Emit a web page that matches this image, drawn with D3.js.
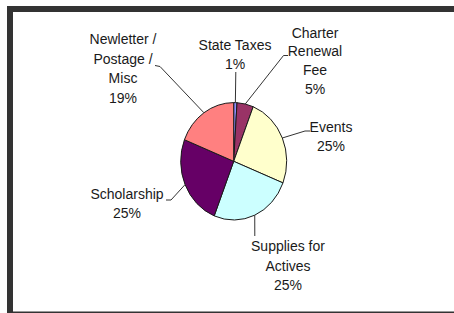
<!DOCTYPE html>
<html>
<head>
<meta charset="utf-8">
<script src="https://cdn.jsdelivr.net/npm/d3@7"></script>
<style>
  html, body { margin: 0; padding: 0; background: #fff; }
  svg { display: block; }
  text { font-family: "Liberation Sans", Arial, sans-serif; font-size: 14px; fill: #1a1a1a; }
</style>
</head>
<body>
<svg id="chart" width="454" height="313"></svg>
<script>
// ---- data ----
const categories = ["State Taxes", "Charter Renewal Fee", "Events", "Supplies for Actives", "Scholarship", "Newletter / Postage / Misc"];
const values = [1, 5, 25, 25, 25, 19];
const colors = ["#8f8fff", "#993366", "#ffffcc", "#ccffff", "#660066", "#ff8080"];
const labelLines = [
  ["State Taxes", "1%"],
  ["Charter", "Renewal", "Fee", "5%"],
  ["Events", "25%"],
  ["Supplies for", "Actives", "25%"],
  ["Scholarship", "25%"],
  ["Newletter /", "Postage /", "Misc", "19%"]
];

// ---- layout ----
const W = 454, H = 313;
const cx = 233.7, cy = 161.3, rx = 53, ry = 58.7;
const sy = ry / rx;
// label block: center x, first baseline, line pitch; leader: elbow points after pie edge
const labelLayout = [
  { x: 235, y: 50, pitch: 18.5, leader: [[235.8, 72]] },
  { x: 315, y: 37.5, pitch: 18.7, leader: [[283.5, 55.5], [288, 55.5]] },
  { x: 331, y: 132.3, pitch: 18.5, leader: [[305, 131], [310, 131]] },
  { x: 288, y: 251, pitch: 19.5, leader: [[254.8, 236]] },
  { x: 127, y: 199.3, pitch: 18.2, leader: [[171, 200], [166, 200]] },
  { x: 123, y: 44, pitch: 19.5, leader: [[160, 66.5], [155, 65.5]] }
];

const svg = d3.select("#chart");
svg.append("rect").attr("width", W).attr("height", H).attr("fill", "#fff");

// frame
const frameColor = "#333333";
svg.append("rect").attr("x", 7).attr("y", 6).attr("width", W - 7).attr("height", 6).attr("fill", frameColor);
svg.append("rect").attr("x", 7).attr("y", 6).attr("width", 6).attr("height", H - 6).attr("fill", frameColor);
svg.append("rect").attr("x", 7).attr("y", 311.5).attr("width", W - 7).attr("height", 1.5).attr("fill", frameColor);

const pie = d3.pie().sort(null).value(d => d)(values);
const arc = d3.arc().innerRadius(0).outerRadius(rx);

const g = svg.append("g").attr("transform", `translate(${cx},${cy}) scale(1,${sy})`);
g.selectAll("path").data(pie).join("path")
  .attr("d", arc)
  .attr("fill", (d, i) => colors[i])
  .attr("stroke", "#1a1a1a")
  .attr("stroke-width", 1)
  .attr("vector-effect", "non-scaling-stroke");

// leader lines
pie.forEach((d, i) => {
  const a = (d.startAngle + d.endAngle) / 2;
  const px = cx + rx * Math.sin(a);
  const py = cy - ry * Math.cos(a);
  const pts = [[px, py]].concat(labelLayout[i].leader);
  svg.append("path")
    .attr("d", d3.line()(pts))
    .attr("fill", "none")
    .attr("stroke", "#333")
    .attr("stroke-width", 1);
});

// labels
labelLines.forEach((lines, i) => {
  const L = labelLayout[i];
  const t = svg.append("text").attr("text-anchor", "middle");
  lines.forEach((s, j) => {
    t.append("tspan").attr("x", L.x).attr("y", L.y + j * L.pitch).text(s);
  });
});
</script>
</body>
</html>
